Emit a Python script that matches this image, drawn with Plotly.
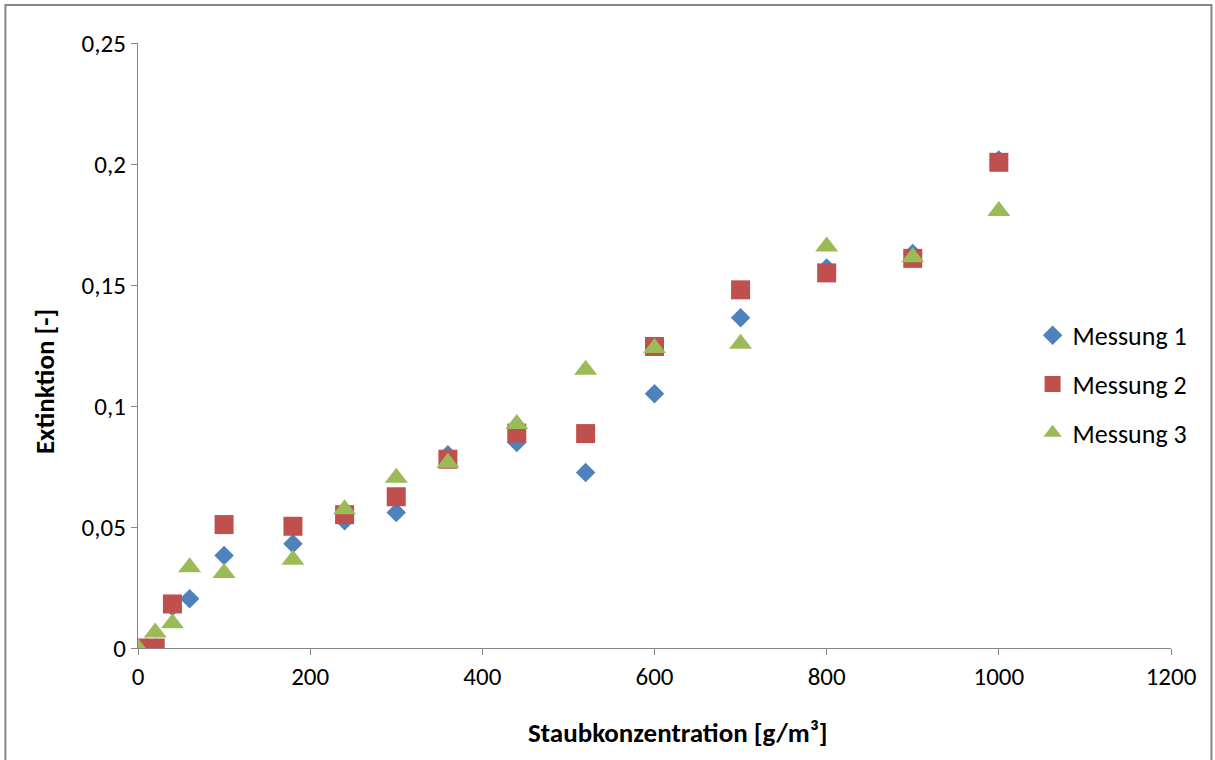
import plotly.graph_objects as go

x_vals = [0, 20, 40, 60, 100, 180, 240, 300, 360, 440, 520, 600, 700, 800, 900, 1000]
messung1 = [0.0, 0.0, 0.017, 0.0204, 0.0382, 0.0431, 0.0526, 0.0560, 0.0799, 0.0849, 0.0725, 0.1051, 0.1365, 0.157, 0.163, 0.2017]
messung2 = [0.0, 0.0, 0.0182, None, 0.0510, 0.0503, 0.0551, 0.0625, 0.078, 0.0888, 0.0886, 0.1246, 0.1480, 0.1550, 0.1610, 0.2007]
messung3 = [0.0, 0.0064, 0.0102, 0.0334, 0.0310, 0.0365, 0.0573, 0.0704, 0.0765, 0.0926, 0.1150, 0.1240, 0.1257, 0.1659, 0.1615, 0.1806]

y_ticks = [0, 0.05, 0.1, 0.15, 0.2, 0.25]
y_ticktext = ["0", "0,05", "0,1", "0,15", "0,2", "0,25"]
x_ticks = [0, 200, 400, 600, 800, 1000, 1200]

FONT = "Calibri, Carlito, Lato, 'Open Sans', sans-serif"

fig = go.Figure()
fig.add_trace(go.Scatter(x=x_vals, y=messung1, mode="markers", name="Messung 1", legendgroup="g1",
                         marker=dict(symbol="diamond", size=15, color="#4F81BD")))
fig.add_trace(go.Scatter(x=x_vals, y=messung2, mode="markers", name="Messung 2", legendgroup="g2",
                         marker=dict(symbol="square", size=19, color="#C0504D")))
fig.add_trace(go.Scatter(x=x_vals, y=messung3, mode="markers", name="Messung 3", legendgroup="g3",
                         marker=dict(symbol="triangle-up", size=20, color="#9BBB59")))

L, R, T, B = 137.7, 43.5, 43, 111.5
W, H = 1215, 760
pw, ph = W - L - R, H - T - B

def px_x(p):
    return (p - L) / pw

def px_y(p):
    return (H - B - p) / ph

fig.update_layout(
    width=W, height=H,
    margin=dict(l=L, r=R, t=T, b=B, autoexpand=False),
    paper_bgcolor="white", plot_bgcolor="white",
    font=dict(family=FONT, size=25, color="black"),
    separators=", ",
    showlegend=True,
    legend=dict(x=px_x(1033), y=px_y(312), xanchor="left", yanchor="top",
                bgcolor="rgba(0,0,0,0)", tracegroupgap=12,
                font=dict(family=FONT, size=26, color="black")),
    xaxis=dict(range=[0, 1200], tickvals=x_ticks, showgrid=False, zeroline=False,
               showline=True, linecolor="#868686", linewidth=1.3,
               ticks="outside", ticklen=6, tickcolor="#868686"),
    yaxis=dict(range=[0, 0.25], tickvals=y_ticks, ticktext=y_ticktext, showgrid=False, zeroline=False,
               showline=True, linecolor="#868686", linewidth=1.3,
               ticks="outside", ticklen=6, tickcolor="#868686"),
    annotations=[
        dict(text="<b>Staubkonzentration [g/m³]</b>", xref="paper", yref="paper",
             x=px_x(678), y=px_y(733), xanchor="center", yanchor="middle", showarrow=False,
             font=dict(family=FONT, size=27, color="black")),
        dict(text="<b>Extinktion [-]</b>", xref="paper", yref="paper",
             x=px_x(44), y=px_y(382), xanchor="center", yanchor="middle", showarrow=False,
             textangle=-90, font=dict(family=FONT, size=27, color="black")),
    ],
)

# outer chart border
fig.add_shape(type="rect", xref="paper", yref="paper",
              x0=px_x(5), x1=px_x(1212),
              y0=px_y(765), y1=px_y(5),
              line=dict(color="#868686", width=2), fillcolor="rgba(0,0,0,0)", layer="below")

fig.write_html("out.html", config={"displayModeBar": False},
               post_script="document.body.style.margin='0';document.body.style.overflow='hidden';")
